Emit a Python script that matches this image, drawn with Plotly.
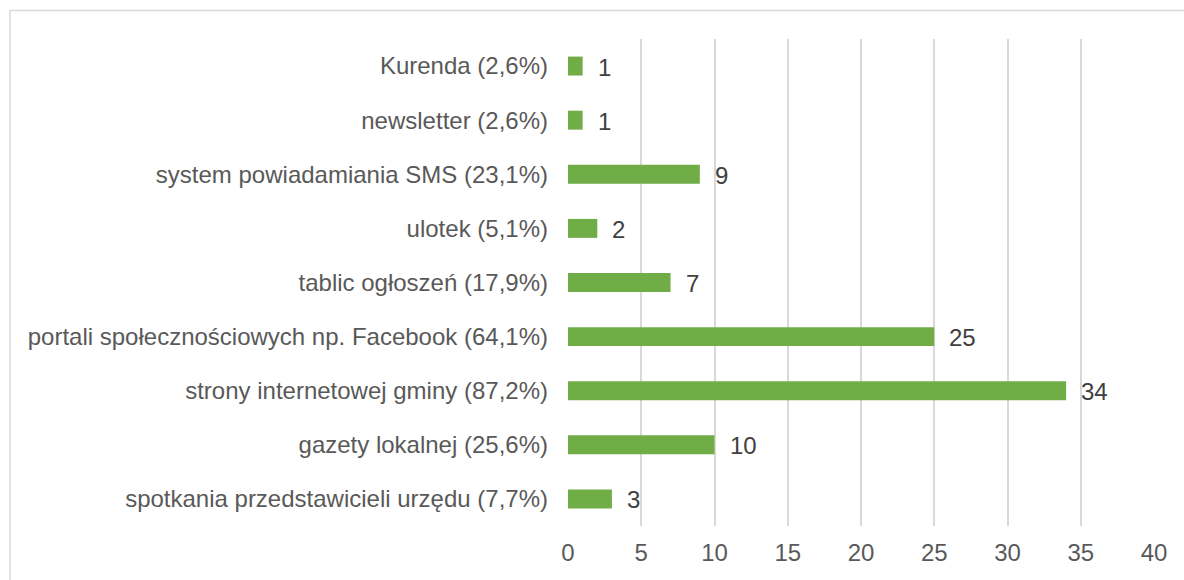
import plotly.graph_objects as go

# Survey answers: where residents learn about municipal news
categories = [
    "spotkania przedstawicieli urzędu (7,7%)",
    "gazety lokalnej (25,6%)",
    "strony internetowej gminy (87,2%)",
    "portali społecznościowych np. Facebook (64,1%)",
    "tablic ogłoszeń (17,9%)",
    "ulotek (5,1%)",
    "system powiadamiania SMS (23,1%)",
    "newsletter (2,6%)",
    "Kurenda (2,6%)",
]
counts = [3, 10, 34, 25, 7, 2, 9, 1, 1]
x_ticks = [0, 5, 10, 15, 20, 25, 30, 35, 40]

W, H = 1184, 580
M_L, M_R, M_T, M_B = 567.5, 30, 39, 54
plot_w = W - M_L - M_R
plot_h = H - M_T - M_B

BAR = "#70AD47"
TXT = "#595959"
FONT = "Liberation Sans, Arial, sans-serif"
FS = 24

fig = go.Figure(
    go.Bar(
        x=counts,
        y=categories,
        orientation="h",
        marker=dict(color=BAR, line=dict(width=0)),
        width=0.35,
        hoverinfo="skip",
    )
)

# value labels just past the end of each bar
for c, v in zip(categories, counts):
    fig.add_annotation(
        x=v, y=c, xref="x", yref="y", text=str(v), showarrow=False,
        xanchor="left", xshift=13, yshift=-1,
        font=dict(family=FONT, size=FS, color="#404040"),
    )

# outer chart frame
fig.add_shape(
    type="rect", xref="paper", yref="paper",
    x0=(9 - M_L) / plot_w, x1=(W + 20 - M_L) / plot_w,
    y0=-(M_B + 20) / plot_h, y1=(H - M_B - 10.5) / plot_h,
    line=dict(color="#D9D9D9", width=1.5), fillcolor="rgba(0,0,0,0)",
    layer="below",
)

fig.update_layout(
    width=W, height=H,
    margin=dict(l=M_L, r=M_R, t=M_T, b=M_B, pad=0),
    paper_bgcolor="white", plot_bgcolor="white",
    showlegend=False,
    font=dict(family=FONT, size=FS, color=TXT),
    bargap=0.65,
    xaxis=dict(
        range=[0, 40], tickvals=x_ticks, ticktext=[str(t) for t in x_ticks],
        showgrid=True, gridcolor="#D9D9D9", gridwidth=1.5,
        zeroline=False, showline=False, ticks="",
        tickfont=dict(family=FONT, size=FS, color=TXT),
        ticklabelstandoff=10,
    ),
    yaxis=dict(
        categoryorder="array", categoryarray=categories,
        showgrid=False, zeroline=False, showline=False, ticks="",
        tickfont=dict(family=FONT, size=FS, color=TXT),
        ticklabelstandoff=19,
    ),
)

fig.write_html("out.html")
